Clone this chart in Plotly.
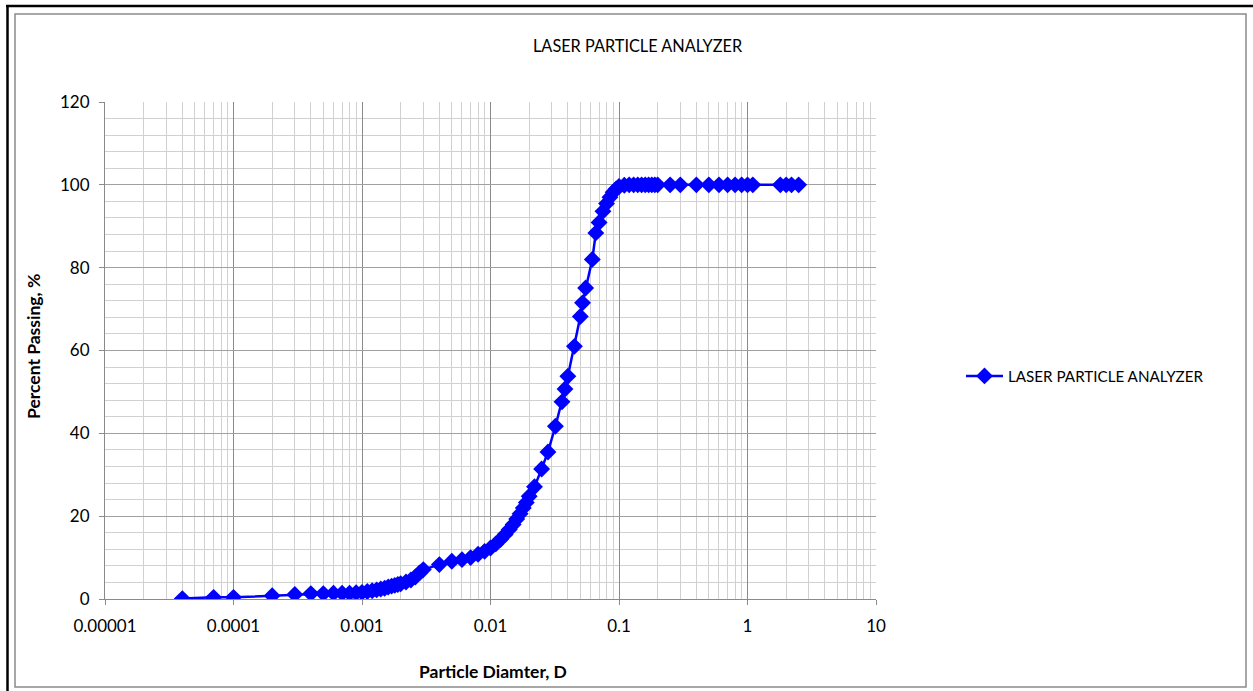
import plotly.graph_objects as go

# Particle diameter (mm) and percent passing
diameter = [
    0.00004, 0.00007, 0.0001, 0.0002, 0.0003, 0.0004, 0.0005, 0.0006, 0.0007, 0.0008, 0.0009,
    0.0010, 0.0011, 0.0012, 0.0013, 0.0014, 0.0015, 0.0016, 0.0017, 0.0018, 0.0019, 0.0020,
    0.0022, 0.0024, 0.0026, 0.0028, 0.0030, 0.0040, 0.0050, 0.0060, 0.0070, 0.0080, 0.0090,
    0.010, 0.011, 0.012, 0.013, 0.014, 0.015, 0.016, 0.017, 0.018, 0.019, 0.020,
    0.022, 0.025, 0.028, 0.032, 0.036, 0.038, 0.040, 0.045, 0.050, 0.052, 0.055,
    0.062, 0.066, 0.070, 0.075, 0.080, 0.085, 0.090, 0.095, 0.100, 0.110,
    0.12, 0.13, 0.14, 0.15, 0.16, 0.17, 0.18, 0.19, 0.20, 0.25, 0.30, 0.40, 0.50,
    0.60, 0.70, 0.80, 0.90, 1.00, 1.10, 1.80, 2.00, 2.20, 2.50,
]
passing = [
    0.1, 0.4, 0.4, 0.8, 1.1, 1.3, 1.3, 1.4, 1.4, 1.4, 1.5,
    1.6, 1.8, 2.0, 2.2, 2.4, 2.6, 2.9, 3.1, 3.3, 3.5, 3.7,
    4.1, 4.6, 5.3, 6.3, 7.1, 8.3, 9.1, 9.5, 10.0, 10.8, 11.5,
    12.3, 13.3, 14.4, 15.6, 16.8, 18.0, 19.3, 20.6, 22.0, 23.3, 24.8,
    27.1, 31.4, 35.5, 41.7, 47.6, 50.7, 53.8, 61.0, 68.2, 71.5, 75.1,
    82.0, 88.4, 90.9, 93.6, 95.5, 97.0, 98.2, 99.0, 99.6, 99.9,
    100, 100, 100, 100, 100, 100, 100, 100, 100, 100, 100, 100, 100,
    100, 100, 100, 100, 100, 100, 100, 100, 100, 100,
]

x_tick_vals = [0.00001, 0.0001, 0.001, 0.01, 0.1, 1, 10]
x_tick_text = ["0.00001", "0.0001", "0.001", "0.01", "0.1", "1", "10"]

FONT = "Lato"
L, R, T, B = 105, 876, 102, 599
W, H = 1253, 691


def px(p):
    return (p - L) / (R - L)


def py(p):
    return (B - p) / (B - T)


fig = go.Figure()
fig.add_trace(go.Scatter(
    x=diameter, y=passing, mode="lines+markers",
    name="LASER PARTICLE ANALYZER",
    line=dict(color="#0000FF", width=2.5),
    marker=dict(symbol="diamond", size=13, color="#0000FF"),
))

fig.update_layout(
    width=W, height=H,
    margin=dict(l=L, r=W - R, t=T, b=H - B),
    paper_bgcolor="white", plot_bgcolor="white",
    font=dict(family=FONT, size=12, color="black"),
    showlegend=True,
    legend=dict(x=px(961), y=py(376), xanchor="left", yanchor="middle",
                itemwidth=37,
                font=dict(family=FONT, size=15.2), bgcolor="rgba(0,0,0,0)"),
    xaxis=dict(
        type="log", range=[-5, 1],
        tickvals=x_tick_vals, ticktext=x_tick_text,
        showgrid=True, gridcolor="#8a8a8a", gridwidth=1,
        minor=dict(showgrid=True, gridcolor="#d0d0d0", dtick="D1", ticks=""),
        ticks="outside", ticklen=5, tickcolor="#8a8a8a",
        ticklabelstandoff=7,
        showline=True, linecolor="#8a8a8a", linewidth=1,
        tickfont=dict(family=FONT, size=17),
        zeroline=False,
    ),
    yaxis=dict(
        range=[0, 120], dtick=20, tick0=0,
        showgrid=True, gridcolor="#a0a0a0", gridwidth=1,
        minor=dict(showgrid=True, gridcolor="#d0d0d0", dtick=4, ticks=""),
        ticks="outside", ticklen=5, tickcolor="#8a8a8a",
        ticklabelstandoff=6,
        showline=True, linecolor="#8a8a8a", linewidth=1,
        tickfont=dict(family=FONT, size=17),
        zeroline=False,
    ),
)

# Chart title and axis titles
fig.add_annotation(text="LASER PARTICLE ANALYZER", xref="paper", yref="paper",
                   x=px(638), y=py(45), xanchor="center", yanchor="middle",
                   showarrow=False, font=dict(family=FONT, size=16.3))
fig.add_annotation(text="<b>Percent Passing, %</b>", xref="paper", yref="paper",
                   x=px(33), y=py(347), xanchor="center", yanchor="middle",
                   textangle=-90, showarrow=False,
                   font=dict(family=FONT, size=17.5))
fig.add_annotation(text="<b>Particle Diamter, D</b>", xref="paper", yref="paper",
                   x=px(493), y=py(671), xanchor="center", yanchor="middle",
                   showarrow=False, font=dict(family=FONT, size=17.5))

# Chart frame
fig.add_shape(type="rect", xref="paper", yref="paper",
              x0=px(15), x1=px(1246), y0=py(687), y1=py(14),
              line=dict(color="#8a8a8a", width=1.5), layer="below")
fig.add_shape(type="line", xref="paper", yref="paper",
              x0=px(7.5), x1=px(7.5), y0=py(691), y1=py(5.5),
              line=dict(color="black", width=2.5))
fig.add_shape(type="line", xref="paper", yref="paper",
              x0=px(6), x1=px(1253), y0=py(6), y1=py(6),
              line=dict(color="black", width=2.5))

fig.write_html("out.html")
